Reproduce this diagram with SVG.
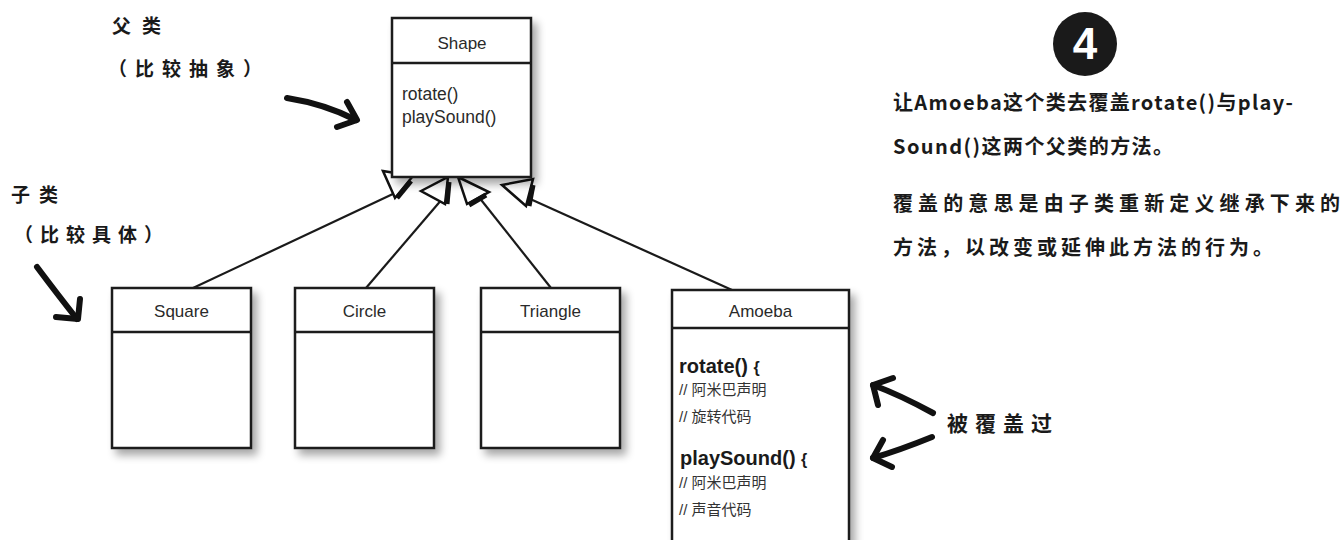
<svg xmlns="http://www.w3.org/2000/svg" width="1344" height="540" viewBox="0 0 1344 540">
<style>
.box{fill:#fff;stroke:#1a1a1a;stroke-width:2.5}
.sep{stroke:#1a1a1a;stroke-width:2.5}
.lbl{font-family:"Liberation Sans",Arial,sans-serif;font-size:17px;fill:#2a2a2a}
.mth{font-family:"Liberation Sans",Arial,sans-serif;font-size:17.5px;fill:#2a2a2a}
.bold{font-family:"Liberation Sans",Arial,sans-serif;font-size:20px;font-weight:bold;fill:#1a1a1a}
.cmt{font-family:"Liberation Sans","Noto Sans CJK SC",sans-serif;font-size:15px;fill:#333}
.hand{font-family:"Noto Sans CJK SC","Noto Sans CJK JP",sans-serif;font-weight:bold;fill:#1a1a1a}
.conn{stroke:#1a1a1a;stroke-width:2.2;fill:none}
.head{fill:#fff;stroke:#111;stroke-width:2.5;stroke-linejoin:miter}
.headsh{stroke:#111;stroke-width:5;fill:none}
.ink{stroke:#111;stroke-width:6;fill:none;stroke-linecap:round;stroke-linejoin:round}
</style>
<defs>
<filter id="sh" x="-20%" y="-20%" width="150%" height="150%">
<feGaussianBlur in="SourceAlpha" stdDeviation="4"/>
<feOffset dx="5" dy="6" result="b"/>
<feComponentTransfer><feFuncA type="linear" slope="0.35"/></feComponentTransfer>
<feMerge><feMergeNode/><feMergeNode in="SourceGraphic"/></feMerge>
</filter>
</defs>
<rect width="1344" height="540" fill="#fff"/>

<g id="connectors">
<line class="conn" x1="193" y1="288" x2="395" y2="193"/>
<line class="conn" x1="366" y1="288" x2="443" y2="198"/>
<line class="conn" x1="551" y1="288" x2="478" y2="196"/>
<line class="conn" x1="732" y1="290" x2="528" y2="198"/>
<polygon class="head" points="383,171 413,176 395,198"/>
<line class="headsh" x1="411" y1="181" x2="397" y2="198"/>
<polygon class="head" points="421,191 448,177 445,204"/>
<line class="headsh" x1="449" y1="182" x2="447" y2="204"/>
<polygon class="head" points="458,177 489,192 467,204"/>
<line class="headsh" x1="486" y1="195" x2="469" y2="205"/>
<polygon class="head" points="502,185 533,179 526,206"/>
<line class="headsh" x1="533" y1="185" x2="529" y2="206"/>
</g>

<g id="shape" filter="url(#sh)">
<rect class="box" x="392" y="18" width="139" height="159"/>
<line class="sep" x1="392" y1="63" x2="531" y2="63"/>
</g>
<g id="shape-text">
<text class="lbl" x="462" y="49" text-anchor="middle">Shape</text>
<text class="mth" x="402" y="100">rotate()</text>
<text class="mth" x="402" y="123">playSound()</text>
</g>

<g id="square">
<g filter="url(#sh)"><rect class="box" x="112" y="288" width="139" height="160"/>
<line class="sep" x1="112" y1="332" x2="251" y2="332"/></g>
<text class="lbl" x="181.5" y="317" text-anchor="middle">Square</text>
</g>
<g id="circle">
<g filter="url(#sh)"><rect class="box" x="295" y="288" width="139" height="160"/>
<line class="sep" x1="295" y1="332" x2="434" y2="332"/></g>
<text class="lbl" x="364.5" y="317" text-anchor="middle">Circle</text>
</g>
<g id="triangle">
<g filter="url(#sh)"><rect class="box" x="481" y="288" width="139" height="160"/>
<line class="sep" x1="481" y1="332" x2="620" y2="332"/></g>
<text class="lbl" x="550.5" y="317" text-anchor="middle">Triangle</text>
</g>
<g id="amoeba">
<g filter="url(#sh)"><rect class="box" x="672" y="290" width="177" height="270"/>
<line class="sep" x1="672" y1="328" x2="849" y2="328"/></g>
<text class="lbl" x="760.5" y="317" text-anchor="middle">Amoeba</text>
<text class="bold" x="679" y="373">rotate() <tspan font-size="16">{</tspan></text>
<text class="cmt" x="679" y="395">// 阿米巴声明</text>
<text class="cmt" x="679" y="422">// 旋转代码</text>
<text class="bold" x="680" y="465">playSound() <tspan font-size="16">{</tspan></text>
<text class="cmt" x="679" y="488">// 阿米巴声明</text>
<text class="cmt" x="679" y="515">// 声音代码</text>
</g>

<g id="superclass-note">
<text class="hand" x="112" y="33" font-size="19" letter-spacing="11">父类</text>
<text class="hand" x="108" y="76" font-size="19" letter-spacing="8">（比较抽象）</text>
<path class="ink" d="M287,98 Q325,104 356,120"/>
<path class="ink" d="M347,102 L357,120 L337,127"/>
</g>

<g id="subclass-note">
<text class="hand" x="11" y="202" font-size="19" letter-spacing="9">子类</text>
<text class="hand" x="14" y="242" font-size="19" letter-spacing="7">（比较具体）</text>
<path class="ink" d="M37,267 Q58,295 77,319"/>
<path class="ink" d="M80,299 L78,319 L56,317"/>
</g>

<g id="step4">
<circle cx="1085" cy="44" r="32" fill="#1a1a1a"/>
<text x="1085" y="59" text-anchor="middle" font-family="Liberation Sans,Arial,sans-serif" font-weight="bold" font-size="44" fill="#fff">4</text>
<text class="hand" x="893" y="110" font-size="20" textLength="400" lengthAdjust="spacing">让Amoeba这个类去覆盖rotate()与play-</text>
<text class="hand" x="893" y="154" font-size="20" textLength="280" lengthAdjust="spacing">Sound()这两个父类的方法。</text>
<text class="hand" x="893" y="211" font-size="20" textLength="447" lengthAdjust="spacing">覆盖的意思是由子类重新定义继承下来的</text>
<text class="hand" x="893" y="255" font-size="20" textLength="380" lengthAdjust="spacing">方法，以改变或延伸此方法的行为。</text>
</g>

<g id="override-note">
<text class="hand" x="947" y="431" font-size="21" letter-spacing="7">被覆盖过</text>
<path class="ink" d="M933,413 Q900,395 873,385"/>
<path class="ink" d="M893,378 L873,385 L878,405"/>
<path class="ink" d="M932,437 Q900,450 873,458"/>
<path class="ink" d="M883,440 L873,458 L892,467"/>
</g>
</svg>
